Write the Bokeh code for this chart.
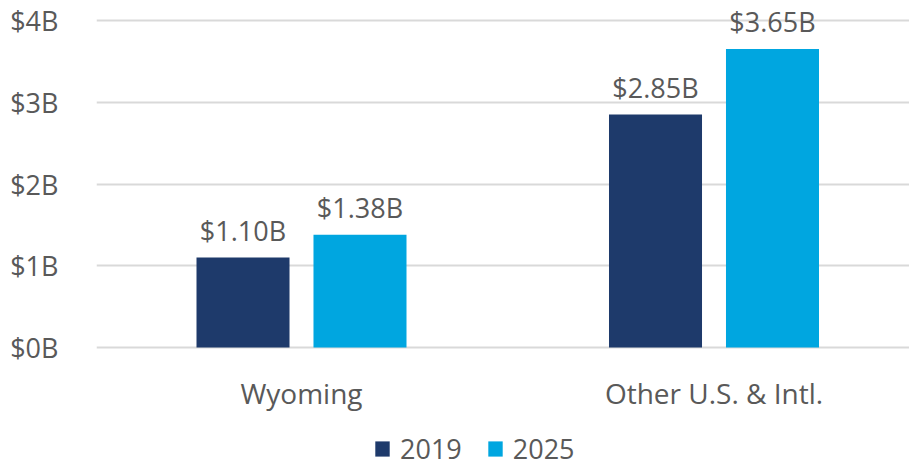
from bokeh.plotting import figure
from bokeh.models import (ColumnDataSource, Range1d, LabelSet, Legend, LegendItem,
                          CustomJSTickFormatter, FixedTicker)
from bokeh.transform import dodge
from bokeh.core.properties import value
from bokeh.embed import file_html
from bokeh.resources import INLINE

categories = ["Wyoming", "Other U.S. & Intl."]
series_names = ["2019", "2025"]
values_2019 = [1.10, 2.85]
values_2025 = [1.38, 3.65]
labels_2019 = ["$1.10B", "$2.85B"]
labels_2025 = ["$1.38B", "$3.65B"]
y_ticks = [0, 1, 2, 3, 4]

FONT = "Open Sans"
TXT = "#595959"
C1 = "#1E3A6B"
C2 = "#00A6E0"

W, H = 909, 465
LEFT = 96             # left edge of plot area
TOP_Y = 20            # screen y of top tick
ZERO_Y = 347          # screen y of value 0
CAT_PX = 412.5        # pixels per category slot
CAT0_CENTER = 301     # screen x of first category centre

px_per_unit = (ZERO_Y - TOP_Y) / max(y_ticks)
y_start = -(H - ZERO_Y) / px_per_unit
y_end = max(y_ticks) + TOP_Y / px_per_unit
x_start = 0.5 - (CAT0_CENTER - LEFT) / CAT_PX
x_end = x_start + (W - LEFT) / CAT_PX

pos = [i + 0.5 for i in range(len(categories))]
zeros = [0] * len(categories)
src = ColumnDataSource(dict(x=pos, y0=zeros, cat=categories, v19=values_2019, v25=values_2025,
                            l19=labels_2019, l25=labels_2025))

p = figure(x_range=Range1d(x_start, x_end), y_range=Range1d(y_start, y_end),
           width=W, height=H, output_backend="svg", toolbar_location=None,
           min_border_left=LEFT, min_border_right=0, min_border_top=0,
           min_border_bottom=0)
p.outline_line_color = None
p.xaxis.visible = False

OFF, BW = 0.1418, 0.2255
r1 = p.vbar(x=dodge("x", -OFF), top="v19", bottom="y0", width=BW,
            source=src, fill_color=C1, line_color=None)
r2 = p.vbar(x=dodge("x", OFF), top="v25", bottom="y0", width=BW,
            source=src, fill_color=C2, line_color=None)

for xo, col, vc in [(-OFF, "l19", "v19"), (OFF, "l25", "v25")]:
    p.add_layout(LabelSet(x=dodge("x", xo), y=vc, text=col, source=src,
                          text_align="center", text_baseline="alphabetic", y_offset=17,
                          text_font=value(FONT), text_font_size="27px", text_color=TXT))

p.add_layout(LabelSet(x="x", y="y0", text="cat", source=src, text_align="center",
                      text_baseline="alphabetic", y_offset=-56,
                      text_font=value(FONT), text_font_size="28px", text_color=TXT))

p.yaxis.ticker = FixedTicker(ticks=y_ticks)
p.yaxis.formatter = CustomJSTickFormatter(code="return '$' + tick.toFixed(0) + 'B';")
p.yaxis.axis_line_color = None
p.yaxis.major_tick_line_color = None
p.yaxis.minor_tick_line_color = None
p.yaxis.major_label_text_font = FONT
p.yaxis.major_label_text_font_size = "27px"
p.yaxis.major_label_text_color = TXT
p.yaxis.major_label_standoff = 32
p.xgrid.grid_line_color = None
p.ygrid.ticker = FixedTicker(ticks=y_ticks)
p.ygrid.grid_line_color = "#D9D9D9"
p.ygrid.grid_line_width = 2

legend = Legend(items=[LegendItem(label=series_names[0], renderers=[r1]),
                       LegendItem(label=series_names[1], renderers=[r2])],
                orientation="horizontal", location=(373 - LEFT, -2),
                label_text_font=FONT, label_text_font_size="27px", label_text_color=TXT,
                glyph_width=18, glyph_height=19, spacing=24, label_standoff=9,
                border_line_color=None, background_fill_alpha=0, padding=0, margin=0)
p.add_layout(legend, "center")

open("out.html", "w").write(file_html(p, INLINE))
